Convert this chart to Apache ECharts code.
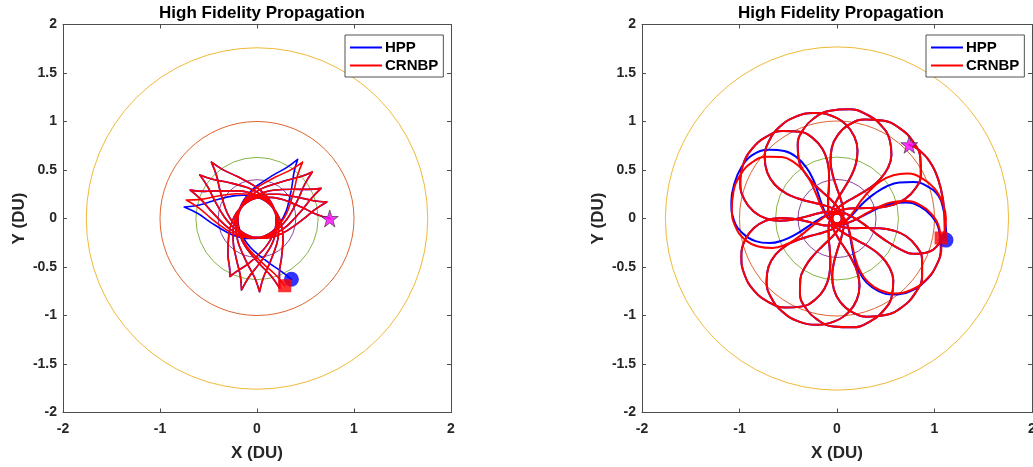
<!DOCTYPE html>
<html>
<head>
<meta charset="utf-8">
<script src="https://cdn.jsdelivr.net/npm/echarts@6/dist/echarts.min.js"></script>
<style>
  html, body { margin: 0; padding: 0; background: #ffffff; }
  #chart { width: 1033px; height: 467px; }
</style>
</head>
<body>
<div id="chart"></div>
<script>
const FONT = '"Liberation Sans", Arial, Helvetica, sans-serif';

// axes
const axisMin = -2, axisMax = 2, xStep = 1, yStep = 0.5;
const plotTitle = 'High Fidelity Propagation';
const xName = 'X (DU)', yName = 'Y (DU)';
const names = ['HPP', 'CRNBP'];

// reference circles (DU) and their colours
const ringRadii = [1.76, 1.0, 0.63, 0.4];
const ringColors = ['#EDB120', '#D95319', '#77AC30', '#7E2F8E'];

// Trajectories are stored as [radius (DU), angle (deg)] samples.
// Left panel: one entry per leg, apoapsis cusp to apoapsis cusp.
const leftCRNBP = [
  [[.75,0],[.611,4.2],[.473,14.4],[.335,35.1],[.277,50.9],[.233,71],[.206,95.2],[.196,122.5],[.206,149.8],[.233,174],[.277,194.1],[.335,209.9],[.473,230.6],[.58,240.8],[.66,245]],
  [[.66,245],[.58,249.2],[.473,259.4],[.335,280.1],[.277,295.9],[.233,316],[.206,340.2],[.196,7],[.206,33.8],[.233,58],[.277,78.1],[.335,93.9],[.473,114.6],[.611,124.8],[.747,129]],
  [[.747,129],[.611,133.2],[.473,143.4],[.335,164.1],[.277,179.9],[.233,200],[.206,224.2],[.196,251.2],[.206,278.1],[.233,302.3],[.277,322.4],[.335,338.2],[.473,358.9],[.611,9.1],[.74,13.3]],
  [[.74,13.3],[.611,17.5],[.473,27.7],[.335,48.4],[.277,64.2],[.233,84.3],[.206,108.5],[.196,135.6],[.206,162.6],[.233,186.8],[.277,206.9],[.335,222.7],[.473,243.4],[.611,253.6],[.754,257.8]],
  [[.754,257.8],[.611,262],[.473,272.2],[.335,292.9],[.277,308.7],[.233,328.8],[.206,353],[.196,20.3],[.206,47.5],[.233,71.7],[.277,91.8],[.335,107.6],[.473,128.3],[.611,138.5],[.742,142.7]],
  [[.742,142.7],[.611,146.9],[.473,157.1],[.335,177.8],[.277,193.6],[.233,213.7],[.206,237.9],[.196,264],[.206,290],[.233,314.2],[.277,334.3],[.335,350.1],[.473,10.8],[.611,21],[.73,25.2]],
  [[.73,25.2],[.611,29.4],[.473,39.6],[.335,60.3],[.277,76.1],[.233,96.2],[.206,120.4],[.196,148.6],[.206,176.8],[.233,201],[.277,221.1],[.335,236.9],[.473,257.6],[.611,267.8],[.755,272]],
  [[.755,272],[.611,276.2],[.473,286.4],[.335,307.1],[.277,322.9],[.233,343],[.206,7.2],[.196,34.5],[.206,61.8],[.233,86],[.277,106.1],[.335,121.9],[.473,142.6],[.611,152.8],[.748,157]],
  [[.748,157],[.611,161.2],[.473,171.4],[.335,192.1],[.277,207.9],[.233,228],[.206,252.2],[.196,278.6],[.206,304.9],[.233,329.1],[.277,349.2],[.335,5],[.473,25.7],[.611,35.9],[.745,40.1]],
  [[.745,40.1],[.611,44.3],[.473,54.5],[.335,75.2],[.277,91],[.233,111.1],[.206,135.3],[.196,164.1],[.206,192.8],[.233,217],[.277,237.1],[.335,252.9],[.473,273.6],[.611,283.8],[.757,288]],
  [[.757,288],[.611,292.2],[.473,302.4],[.335,323.1],[.277,338.9],[.233,359],[.206,23.2],[.196,46.7],[.206,70.2],[.233,94.4],[.277,114.5],[.335,130.3],[.473,151],[.611,161.2],[.754,165.4]],
  [[.754,165.4],[.611,169.6],[.473,179.8],[.335,200.5],[.277,216.3],[.233,236.4],[.206,260.6],[.196,288.2],[.206,315.8],[.233,340],[.277,0.1],[.335,15.9],[.473,36.6],[.611,46.8],[.747,51]],
  [[.747,51],[.611,55.2],[.473,65.4],[.335,86.1],[.277,101.9],[.233,122],[.206,146.2],[.196,171.7],[.206,197.2],[.233,221.4],[.277,241.5],[.335,257.3],[.473,278],[.611,288.2],[.75,292.4]]
];
// the high-fidelity run shares the early legs and drifts on the last three
const leftHPPTail = [
  [[.757,288],[.611,292.2],[.473,302.4],[.335,323.1],[.277,338.9],[.233,359],[.206,23.2],[.196,49.5],[.206,75.8],[.233,100],[.277,120.1],[.335,135.9],[.473,156.6],[.611,166.8],[.76,171]],
  [[.76,171],[.611,175.2],[.473,185.4],[.335,206.1],[.277,221.9],[.233,242],[.206,266.2],[.196,293.3],[.206,320.3],[.233,344.5],[.277,4.6],[.335,20.4],[.473,41.1],[.611,51.3],[.74,55.5]],
  [[.74,55.5],[.611,59.7],[.473,69.9],[.335,90.6],[.277,106.4],[.233,126.5],[.206,150.7],[.196,177.5],[.206,204.3],[.233,228.5],[.277,248.6],[.335,264.4],[.473,285.1],[.611,295.3],[.72,299.5]]
];
const leftHPP = leftCRNBP.slice(0, 10).concat(leftHPPTail);

// Right panel: one entry per revolution (apoapsis loop), perigee to perigee.
const rightCRNBP = [
  [[1.062,45.6],[1.10,39.8],[1.12,28.5],[1.11,15.4],[1.105,2.8],[1.115,353.9],[1.08,346],[.98,339],[.86,335],[.73,334],[.59,335],[.45,338],[.32,345],[.208,357],[.1225,18],[.083,42],[.05,123.7]],
  [[.083,202.1],[.1225,225.1],[.208,245.7],[.32,256.4],[.45,261.3],[.59,262.2],[.73,259.9],[.86,255.1],[.972,248.4],[1.058,240],[1.111,230.7],[1.13,220.8],[1.111,210.9],[1.058,201.6],[.972,193.2],[.86,186.5],[.73,181.7],[.59,179.4],[.45,180.3],[.32,185.2],[.208,195.9],[.1225,216.5],[.083,239.5],[.05,318]],
  [[.083,36.4],[.1225,59.4],[.208,80],[.32,90.7],[.45,95.6],[.59,96.5],[.73,94.2],[.86,89.4],[.972,82.7],[1.058,74.3],[1.111,65],[1.13,55.1],[1.111,45.2],[1.058,35.9],[.972,27.5],[.86,20.8],[.73,16],[.59,13.7],[.45,14.6],[.32,19.5],[.208,30.2],[.1225,50.8],[.083,73.8],[.05,152.3]],
  [[.083,230.7],[.1225,253.7],[.208,274.3],[.32,285],[.45,289.9],[.59,290.8],[.73,288.5],[.86,283.7],[.972,277],[1.058,268.6],[1.111,259.3],[1.13,249.4],[1.111,239.5],[1.058,230.2],[.972,221.8],[.86,215.1],[.73,210.3],[.59,208],[.45,208.9],[.32,213.8],[.208,224.5],[.1225,245.1],[.083,268.1],[.05,346.6]],
  [[.083,65],[.1225,88],[.208,108.6],[.32,119.3],[.45,124.2],[.59,125.1],[.73,122.8],[.86,118],[.972,111.3],[1.058,102.9],[1.111,93.6],[1.13,83.7],[1.111,73.8],[1.058,64.5],[.972,56.1],[.86,49.4],[.73,44.6],[.59,42.3],[.45,43.2],[.32,48.1],[.208,58.8],[.1225,79.4],[.083,102.4],[.05,180.9]],
  [[.083,259.3],[.1225,282.3],[.208,302.9],[.32,313.6],[.45,318.5],[.59,319.4],[.73,317.1],[.86,312.3],[.972,305.6],[1.058,297.2],[1.111,287.9],[1.13,278],[1.111,268.1],[1.058,258.8],[.972,250.4],[.86,243.7],[.73,238.9],[.59,236.6],[.45,237.5],[.32,242.4],[.208,253.1],[.1225,273.7],[.083,296.7],[.05,15.2]],
  [[.083,93.6],[.1225,116.6],[.208,137.2],[.32,147.9],[.45,152.8],[.59,153.7],[.73,151.4],[.86,146.6],[.972,139.9],[1.058,131.5],[1.111,122.2],[1.13,112.3],[1.111,102.4],[1.058,93.1],[.972,84.7],[.86,78],[.73,73.2],[.59,70.9],[.45,71.8],[.32,76.7],[.208,87.4],[.1225,108],[.083,131],[.05,209.5]],
  [[.083,287.9],[.1225,310.9],[.208,331.5],[.32,342.2],[.45,347.1],[.59,348],[.73,345.7],[.86,340.9],[.972,334.2],[1.058,325.8],[1.111,316.5],[1.13,306.6],[1.111,296.7],[1.058,287.4],[.972,279],[.86,272.3],[.73,267.5],[.59,265.2],[.45,266.1],[.32,271],[.208,281.7],[.1225,302.3],[.083,325.3],[.05,43.8]],
  [[.083,122.2],[.1225,145.2],[.208,165.8],[.32,176.5],[.45,181.4],[.59,182.3],[.73,180],[.86,175.2],[.972,168.5],[1.058,160.1],[1.111,150.8],[1.13,140.9],[1.111,131],[1.058,121.7],[.972,113.3],[.86,106.6],[.73,101.8],[.59,99.5],[.45,100.4],[.32,105.3],[.208,116],[.1225,136.6],[.083,159.6],[.05,238.1]],
  [[.083,316.5],[.1225,339.5],[.208,0.1],[.32,10.8],[.45,15.7],[.59,16.6],[.73,14.3],[.86,9.5],[.972,2.8],[1.058,354.4],[1.111,345.1],[1.13,335.2],[1.111,325.3],[1.058,316],[.972,307.6],[.86,300.9],[.73,296.1],[.59,293.8],[.45,294.7],[.32,299.6],[.208,310.3],[.1225,330.9],[.083,353.9],[.05,72.4]],
  [[.083,147],[.1225,170],[.208,190.5],[.32,201],[.45,206],[.59,207],[.73,204.5],[.86,199.5],[.97,193],[1.045,185],[1.085,175.5],[1.1,165.5],[1.09,156],[1.05,147],[.96,138.5],[.85,132],[.73,127.5],[.59,125],[.45,126],[.32,131],[.208,142],[.1225,162.5],[.083,185],[.05,262]],
  [[.083,342.8],[.1225,5.8],[.208,26.4],[.32,37.1],[.45,40.5],[.59,40.5],[.73,37.5],[.86,32.5],[.97,25],[1.05,17],[1.1,8],[1.12,0],[1.115,353.5],[1.089,349.4]]
];
const rightHPPTail = [
  [[.083,315.3],[.1225,338.3],[.208,358.9],[.32,9.6],[.45,14.5],[.59,15.4],[.73,13.1],[.86,8.3],[.972,1.6],[1.058,353.2],[1.111,343.9],[1.13,334],[1.111,324.1],[1.058,314.8],[.972,306.4],[.86,299.7],[.73,294.9],[.59,292.6],[.45,293.5],[.32,298.4],[.208,309.1],[.1225,329.7],[.083,352.7],[.05,71]],
  [[.083,143],[.1225,166],[.208,186],[.32,196],[.45,201],[.6,202],[.74,200],[.87,195.5],[.98,189],[1.06,181],[1.1,171],[1.115,161],[1.115,152],[1.09,143.5],[.99,134.5],[.88,128],[.76,123.5],[.61,121],[.46,121.5],[.33,126.5],[.21,137.5],[.125,158],[.085,181],[.05,258]],
  [[.085,339],[.125,2],[.21,22],[.32,31],[.45,33.5],[.6,33],[.74,30],[.87,25.5],[.98,20],[1.07,12.5],[1.1,4],[1.11,359],[1.13,353],[1.143,348.8]]
];
const rightHPP = rightCRNBP.slice(0, 9).concat(rightHPPTail);

const firstOf = legs => legs[0][0];
const lastOf = legs => { const l = legs[legs.length - 1]; return l[l.length - 1]; };

// pixel boxes of the two square panels; polar frames share their origin and scale
const panels = [
  { left: 63, top: 24.5, width: 388, height: 388 },
  { left: 642, top: 24.5, width: 390, height: 388 }
];

const axisColor = '#4d4d4d';
const textColor = '#262626';

function makeX(gridIndex, pos) {
  const main = pos === 'bottom';
  return {
    type: 'value', gridIndex, position: pos, min: axisMin, max: axisMax, interval: xStep,
    name: main ? xName : '', nameLocation: 'middle', nameGap: 32,
    nameTextStyle: { fontFamily: FONT, fontWeight: 'bold', fontSize: 17, color: textColor },
    axisLine: { show: true, onZero: false, lineStyle: { color: axisColor, width: 1 } },
    axisTick: { show: true, inside: true, length: 4, lineStyle: { color: axisColor } },
    axisLabel: { show: main, fontFamily: FONT, fontWeight: 'bold', fontSize: 14, color: textColor, margin: 10 },
    splitLine: { show: false }
  };
}
function makeY(gridIndex, pos) {
  const main = pos === 'left';
  return {
    type: 'value', gridIndex, position: pos, min: axisMin, max: axisMax, interval: yStep,
    name: main ? yName : '', nameLocation: 'middle', nameGap: 35,
    nameTextStyle: { fontFamily: FONT, fontWeight: 'bold', fontSize: 17, color: textColor },
    axisLine: { show: true, onZero: false, lineStyle: { color: axisColor, width: 1 } },
    axisTick: { show: true, inside: true, length: 4, lineStyle: { color: axisColor } },
    axisLabel: { show: main, fontFamily: FONT, fontWeight: 'bold', fontSize: 14, color: textColor, margin: 6 },
    splitLine: { show: false }
  };
}
const hidden = { show: false };
function polarFrame(p) {
  return { center: [p.left + p.width / 2, p.top + p.height / 2], radius: (p.width + p.height) / 4 };
}

function ringSeries(axisIndex) {
  return {
    type: 'custom', xAxisIndex: axisIndex, yAxisIndex: axisIndex, silent: true, z: 1,
    data: ringRadii.map((r, i) => [0, 0, r, i]),
    encode: { x: 0, y: 1 },
    renderItem: (params, api) => {
      const c = api.coord([api.value(0), api.value(1)]);
      const r = api.size([api.value(2), 0])[0];
      return {
        type: 'circle', shape: { cx: c[0], cy: c[1], r },
        style: { fill: 'none', stroke: ringColors[api.value(3)], lineWidth: 0.9 }
      };
    }
  };
}

// legs joined by breaks so every cusp stays sharp
function joinLegs(legs, breakBetween) {
  const out = [];
  legs.forEach((leg, i) => {
    if (i > 0 && breakBetween) out.push('-');
    leg.forEach(p => out.push(p));
  });
  return out;
}

function trackSeries(name, data, color, polarIndex, width, smooth) {
  return {
    type: 'line', name, coordinateSystem: 'polar', polarIndex, z: 2,
    data, smooth, connectNulls: false, showSymbol: false, symbol: 'none', clip: false,
    itemStyle: { color }, lineStyle: { color, width, cap: 'round', join: 'round' }
  };
}

const STAR = 'path://M50,2 L61.2,36.2 L97.6,36.2 L68.2,57.4 L79.4,91.6 L50,70.4 L20.6,91.6 L31.8,57.4 L2.4,36.2 L38.8,36.2 Z';
function markerSeries(polarIndex, start, endHPP, endCRNBP) {
  const base = { type: 'scatter', coordinateSystem: 'polar', polarIndex, silent: true, clip: false };
  return [
    Object.assign({ z: 5, symbol: 'circle', symbolSize: 15, itemStyle: { color: '#0000ff' }, data: [endHPP] }, base),
    Object.assign({ z: 6, symbol: 'rect', symbolSize: 13, itemStyle: { color: '#ff0000' }, data: [endCRNBP] }, base),
    Object.assign({ z: 7, symbol: STAR, symbolSize: 17, itemStyle: { color: '#ff00ff', borderColor: '#333333', borderWidth: 0.8 }, data: [start] }, base)
  ];
}

function legendAt(left) {
  return {
    orient: 'vertical', left, top: 35, selectedMode: false,
    data: names.map(n => ({ name: n, icon: 'rect' })),
    itemWidth: 32, itemHeight: 2, itemGap: 1,
    padding: [4, 5, 3, 5],
    backgroundColor: '#ffffff', borderColor: '#262626', borderWidth: 0.8, borderRadius: 0,
    textStyle: { fontFamily: FONT, fontWeight: 'bold', fontSize: 15, lineHeight: 17, color: '#000000', padding: [0, 0, 0, -2] }
  };
}

const option = {
  animation: false,
  backgroundColor: '#ffffff',
  title: panels.map((p, i) => ({
    text: plotTitle, left: p.left + p.width / 2 - i, top: 0, textAlign: 'center',
    textStyle: { fontFamily: FONT, fontWeight: 'bold', fontSize: 17, color: '#000000' }
  })),
  legend: [legendAt(345), legendAt(926)],
  grid: panels.map(p => Object.assign({ containLabel: false, outerBoundsMode: 'none' }, p)),
  xAxis: [makeX(0, 'bottom'), makeX(0, 'top'), makeX(1, 'bottom'), makeX(1, 'top')],
  yAxis: [makeY(0, 'left'), makeY(0, 'right'), makeY(1, 'left'), makeY(1, 'right')],
  polar: panels.map(polarFrame),
  angleAxis: [0, 1].map(i => ({
    polarIndex: i, type: 'value', min: 0, max: 360, startAngle: 0, clockwise: false,
    axisLine: hidden, axisTick: hidden, axisLabel: hidden, splitLine: hidden, splitArea: hidden
  })),
  radiusAxis: [0, 1].map(i => ({
    polarIndex: i, type: 'value', min: 0, max: 2,
    axisLine: hidden, axisTick: hidden, axisLabel: hidden, splitLine: hidden, splitArea: hidden
  })),
  series: [
    ringSeries(0),
    trackSeries('HPP', joinLegs(leftHPP, true), '#0000ff', 0, 1.6, 0.4),
    trackSeries('CRNBP', joinLegs(leftCRNBP, true), '#ff0000', 0, 1.6, 0.4),
    ...markerSeries(0, firstOf(leftCRNBP), lastOf(leftHPP), lastOf(leftCRNBP)),
    ringSeries(2),
    trackSeries('HPP', joinLegs(rightHPP, false), '#0000ff', 1, 2, 0.45),
    trackSeries('CRNBP', joinLegs(rightCRNBP, false), '#ff0000', 1, 2, 0.45),
    ...markerSeries(1, firstOf(rightCRNBP), lastOf(rightHPP), lastOf(rightCRNBP))
  ]
};

const chart = echarts.init(document.getElementById('chart'), null, { renderer: 'canvas' });
chart.setOption(option);
</script>
</body>
</html>
